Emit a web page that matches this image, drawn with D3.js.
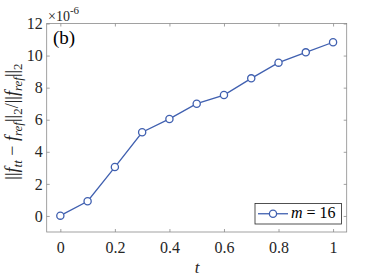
<!DOCTYPE html>
<html><head><meta charset="utf-8">
<script src="https://cdn.jsdelivr.net/npm/d3@7/dist/d3.min.js"></script>
</head><body style="margin:0"><svg id="c" width="374" height="280"></svg>
<script>
const tValues = [0, 0.1, 0.2, 0.3, 0.4, 0.5, 0.6, 0.7, 0.8, 0.9, 1.0];
const errValues = [0.02, 0.92, 3.05, 5.22, 6.05, 7.0, 7.54, 8.58, 9.56, 10.2, 10.83];
const xTicks = [0, 0.2, 0.4, 0.6, 0.8, 1];
const xTickLabels = ["0", "0.2", "0.4", "0.6", "0.8", "1"];
const yTicks = [0, 2, 4, 6, 8, 10, 12];
const seriesName = "16";

const FF = "Liberation Serif";
const svg = d3.select("#c");
const L = 46.7, R = 346.7, T = 23.5, B = 232;
const x = d3.scaleLinear().domain([-0.05, 1.05]).range([L, R]);
const y = d3.scaleLinear().domain([-1, 12]).range([B, T]);
const axisCol = "#262626";
const blue = "#4060b0";

svg.append("rect").attr("x", L).attr("y", T).attr("width", R - L).attr("height", B - T)
  .attr("fill", "none").attr("stroke", "#8a8a8a").attr("stroke-width", 0.8);

const tl = 3;
const gx = svg.append("g").attr("transform", `translate(0,${B})`)
  .call(d3.axisBottom(x).tickValues(xTicks).tickFormat((d, i) => xTickLabels[i]).tickSizeInner(-tl).tickSizeOuter(0).tickPadding(10));
const gxt = svg.append("g").attr("transform", `translate(0,${T})`)
  .call(d3.axisTop(x).tickValues(xTicks).tickFormat("").tickSizeInner(-tl).tickSizeOuter(0));
const gy = svg.append("g").attr("transform", `translate(${L},0)`)
  .call(d3.axisLeft(y).tickValues(yTicks).tickFormat(d3.format("d")).tickSizeInner(-tl).tickSizeOuter(0).tickPadding(4));
const gyr = svg.append("g").attr("transform", `translate(${R},0)`)
  .call(d3.axisRight(y).tickValues(yTicks).tickFormat("").tickSizeInner(-tl).tickSizeOuter(0));
[gx, gxt, gy, gyr].forEach(g => {
  g.attr("font-family", FF).attr("font-size", 16);
  g.select(".domain").remove();
  g.selectAll(".tick line").attr("stroke", "#8a8a8a").attr("stroke-width", 0.8);
  g.selectAll(".tick text").attr("fill", axisCol).attr("font-family", FF).attr("font-size", 16)
    .style("font-family", FF);
});

const line = d3.line().x((d, i) => x(tValues[i])).y(d => y(d));
svg.append("path").datum(errValues).attr("d", line).attr("fill", "none").attr("stroke", blue).attr("stroke-width", 1.3);
svg.selectAll("circle.pt").data(errValues).enter().append("circle").attr("class", "pt")
  .attr("cx", (d, i) => x(tValues[i])).attr("cy", d => y(d)).attr("r", 3.6)
  .attr("fill", "#fff").attr("stroke", blue).attr("stroke-width", 1.3);

function txt(sel) { return sel.attr("font-family", FF).style("font-family", FF); }
const ex = txt(svg.append("text")).attr("x", 48).attr("y", 20.5).attr("fill", axisCol).attr("font-size", 14);
ex.append("tspan").text("×10");
ex.append("tspan").attr("dy", -7).attr("font-size", 11).text("-6");

txt(svg.append("text")).attr("x", 53).attr("y", 44).attr("fill", "#000").attr("font-size", 19).text("(b)");

txt(svg.append("text")).attr("x", 197).attr("y", 272.5).attr("text-anchor", "middle")
  .attr("fill", axisCol).attr("font-size", 17).attr("font-style", "italic").text("t");

const yl = txt(svg.append("text")).attr("transform", `translate(18,121.5) rotate(-90)`)
  .attr("text-anchor", "middle").attr("fill", axisCol).attr("font-size", 18);
function part(s, italic, sub) {
  const ts = yl.append("tspan").text(s);
  if (italic) ts.attr("font-style", "italic");
  if (sub) ts.attr("font-size", 13).attr("dy", 4);
  return ts;
}
part("||", false); part("f", true); part("tt", true, true);
yl.append("tspan").attr("dy", -4).text(" − ");
part("f", true); part("ref", true, true);
yl.append("tspan").attr("dy", -4).text("||"); part("2", false, true);
yl.append("tspan").attr("dy", -4).text("/||");
part("f", true); part("ref", true, true);
yl.append("tspan").attr("dy", -4).text("||"); part("2", false, true);

const lx = 255, ly = 203.5, lw = 86.5, lh = 20.5;
svg.append("rect").attr("x", lx).attr("y", ly).attr("width", lw).attr("height", lh)
  .attr("fill", "#fff").attr("stroke", "#262626").attr("stroke-width", 0.8);
svg.append("line").attr("x1", lx + 3).attr("x2", lx + 33).attr("y1", ly + lh / 2).attr("y2", ly + lh / 2)
  .attr("stroke", blue).attr("stroke-width", 1.3);
svg.append("circle").attr("cx", lx + 18).attr("cy", ly + lh / 2).attr("r", 3.6)
  .attr("fill", "#fff").attr("stroke", blue).attr("stroke-width", 1.3);
const lt = txt(svg.append("text")).attr("x", lx + 36).attr("y", 217.7).attr("fill", "#000").attr("font-size", 16);
lt.append("tspan").attr("font-style", "italic").text("m");
lt.append("tspan").text(" = " + seriesName);
</script></body></html>
